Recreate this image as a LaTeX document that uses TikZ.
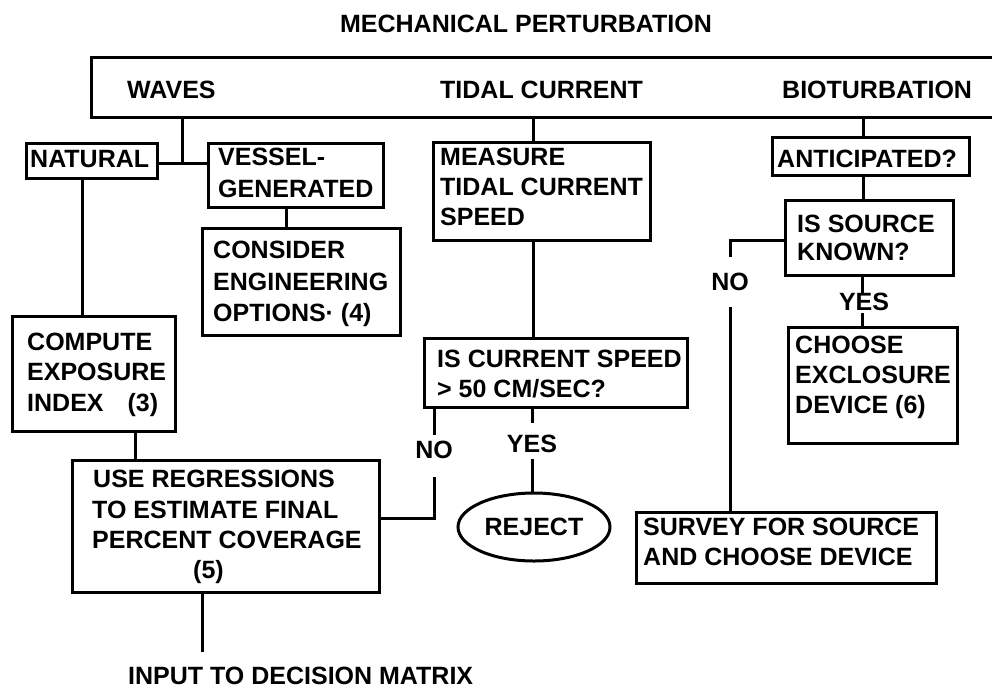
\documentclass[tikz,border=0pt]{standalone}
\usepackage{fontspec}
\setmainfont{Liberation Sans}
\usetikzlibrary{fit,shapes.geometric}
\begin{document}
\begin{tikzpicture}[x=1pt,y=-1pt,
  ln/.style={line width=3pt},
  box/.style={draw, line width=3pt, inner sep=0pt, rectangle},
  txt/.style={anchor=base west, inner sep=0pt, font=\bfseries\fontsize{25}{30}\selectfont},
  ctxt/.style={txt, anchor=base},
  oval/.style={draw, line width=3pt, ellipse, inner sep=0pt, minimum width=152pt, minimum height=68pt, font=\bfseries\fontsize{25}{30}\selectfont}]
\useasboundingbox (0,0) rectangle (992,689);
\fill[white] (0,0) rectangle (992,689);

% title
\node[ctxt] (title) at (526,32) {MECHANICAL PERTURBATION};

% top bar (open on the right)
\node[fit={(92,58) (992,117)}, inner sep=0pt] (mech) {};
\draw[ln] (mech.north east) -- (mech.north west) -- (mech.south west) -- (mech.south east);
\node[txt] (waves) at (127,98) {WAVES};
\node[txt] (tidal) at (440,98) {TIDAL CURRENT};
\node[txt] (bio) at (782,98) {BIOTURBATION};

% boxes
\node[box, fit={(26,143) (157,178)}] (natural) {};
\node[box, fit={(208,143) (383,207)}] (vessel) {};
\node[box, fit={(202,228) (400,335)}] (consider) {};
\node[box, fit={(12,316) (175,431)}] (compute) {};
\node[box, fit={(72,460) (379,592)}] (use) {};
\node[box, fit={(433,142) (650,240)}] (measure) {};
\node[box, fit={(424,338) (687,407)}] (iscur) {};
\node[box, fit={(772,137) (969,175)}] (antic) {};
\node[box, fit={(785,200) (953,275)}] (issource) {};
\node[box, fit={(788,327) (957,443)}] (choose) {};
\node[box, fit={(636,512) (936,583)}] (survey) {};
\node[oval] (reject) at (534,527) {REJECT};

% box texts
\node[txt] (natural1) at (30,167) {NATURAL};
\node[txt] (vessel1) at (218,165) {VESSEL-};
\node[txt] (vessel2) at (218,197) {GENERATED};
\node[txt] (consider1) at (213,258) {CONSIDER};
\node[txt] (consider2) at (213,290) {ENGINEERING};
\node[txt] (consider3) at (213,321) {OPTIONS· (4)};
\node[txt] (compute1) at (27,350) {COMPUTE};
\node[txt] (compute2) at (27,380) {EXPOSURE};
\node[txt] (compute3) at (27,411) {INDEX\hspace{24pt}(3)};
\node[txt] (use1) at (93,487) {USE REGRESSIONS};
\node[txt] (use2) at (92,518) {TO ESTIMATE FINAL};
\node[txt] (use3) at (92,548) {PERCENT COVERAGE};
\node[txt] (use4) at (193,578) {(5)};
\node[txt] (input) at (128,684) {INPUT TO DECISION MATRIX};
\node[txt] (measure1) at (440,165) {MEASURE};
\node[txt] (measure2) at (440,195) {TIDAL CURRENT};
\node[txt] (measure3) at (440,225) {SPEED};
\node[txt] (iscur1) at (437,367) {IS CURRENT SPEED};
\node[txt] (iscur2) at (437,397) {> 50 CM/SEC?};
\node[txt] (antic1) at (777,167) {ANTICIPATED?};
\node[txt] (issource1) at (797,232) {IS SOURCE};
\node[txt] (issource2) at (797,260) {KNOWN?};
\node[txt] (choose1) at (795,353) {CHOOSE};
\node[txt] (choose2) at (795,383) {EXCLOSURE};
\node[txt] (choose3) at (795,413) {DEVICE (6)};
\node[txt] (survey1) at (643,535) {SURVEY FOR SOURCE};
\node[txt] (survey2) at (643,565) {AND CHOOSE DEVICE};
\node[ctxt] (noT) at (434,458) {NO};
\node[ctxt] (yesT) at (532,452) {YES};
\node[ctxt] (noB) at (730,290) {NO};
\node[ctxt] (yesB) at (864,310) {YES};

% connectors: waves
\coordinate (wj) at (182,163);
\draw[ln] (mech.south -| wj) -- (wj);
\draw[ln] (natural.east |- wj) -- (vessel.west |- wj);
\coordinate (cv) at (286,0);
\draw[ln] (vessel.south -| cv) -- (consider.north -| cv);
\coordinate (cn) at (82,0);
\draw[ln] (natural.south -| cn) -- (compute.north -| cn);
\coordinate (cc) at (135,0);
\draw[ln] (compute.south -| cc) -- (use.north -| cc);
\coordinate (inend) at (202,652);
\draw[ln] (use.south -| inend) -- (inend);

% connectors: tidal current
\coordinate (ct) at (533,0);
\draw[ln] (mech.south -| ct) -- (measure.north -| ct);
\draw[ln] (measure.south -| ct) -- (iscur.north -| ct);
\coordinate (noA) at (434,435);
\coordinate (noBt) at (434,477);
\coordinate (noC) at (434,518);
\draw[ln] (iscur.south -| noA) -- (noA);
\draw[ln] (noBt) -- (noC) -- (use.east |- noC);
\coordinate (yA) at (532,423);
\coordinate (yB) at (532,459);
\draw[ln] (iscur.south -| yA) -- (yA);
\draw[ln] (yB) -- (reject.north -| yB);

% connectors: bioturbation
\coordinate (cb) at (863,0);
\draw[ln] (mech.south -| cb) -- (antic.north -| cb);
\draw[ln] (antic.south -| cb) -- (issource.north -| cb);
\coordinate (nbA) at (730,240);
\coordinate (nbB) at (730,257);
\coordinate (nbC) at (730,307);
\draw[ln] (issource.west |- nbA) -- (nbA) -- (nbB);
\draw[ln] (nbC) -- (survey.north -| nbC);
\coordinate (ybA) at (862,293);
\coordinate (ybB) at (862,313);
\draw[ln] (issource.south -| ybA) -- (ybA);
\draw[ln] (ybB) -- (choose.north -| ybB);
\end{tikzpicture}
\end{document}
